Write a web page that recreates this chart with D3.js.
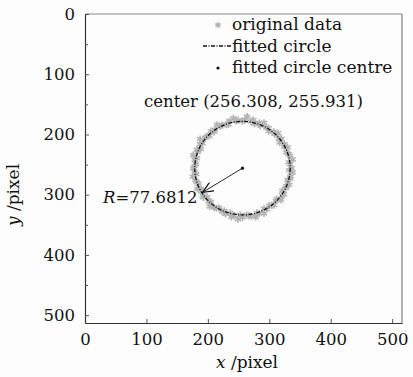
<!DOCTYPE html>
<html>
<head>
<meta charset="utf-8">
<script src="https://cdn.jsdelivr.net/npm/d3@7"></script>
<style>
  body { margin: 0; background: #fdfdfd; }
  svg { display: block; }
  text { font-family: "DejaVu Serif", serif; fill: #111; }
</style>
</head>
<body>
<div class="graph"></div>
<script>
// values
var center = [256.308, 255.931];
var radius = 77.6812;
var arrowTip = [191.5, 296.0];
var xTicks = [0, 100, 200, 300, 400, 500];
var yTicks = [0, 100, 200, 300, 400, 500];
var yMinorTicks = [50, 150, 250, 350, 450];
var legendLabels = ["original data", "fitted circle", "fitted circle centre"];

// original edge points (x, y in image pixels)
var origX = [336.3, 338.0, 334.1, 329.7, 332.4, 327.0, 321.3, 321.0, 319.1, 310.7, 307.7, 299.9,
  295.8, 291.4, 283.7, 278.0, 270.4, 263.1, 256.3, 248.9, 242.4, 236.4, 228.6, 222.9,
  218.3, 210.4, 202.9, 201.1, 198.8, 191.6, 189.6, 182.9, 184.9, 180.0, 175.5, 178.6,
  176.3, 180.6, 178.5, 176.1, 183.0, 188.3, 187.0, 187.5, 195.8, 202.6, 204.9, 211.6,
  214.8, 222.9, 230.0, 235.3, 241.7, 249.3, 256.3, 263.8, 270.0, 276.0, 283.7, 291.4,
  295.3, 299.3, 307.1, 314.3, 315.3, 316.9, 324.7, 329.7, 327.7, 333.6, 338.0, 334.0,
  332.2, 334.4, 327.4, 323.8, 312.3, 303.8, 291.4, 279.8, 266.7, 252.9, 238.3, 226.8,
  213.9, 205.0, 192.8, 188.9, 181.9, 181.0, 178.4, 182.1, 182.4, 191.4, 198.8, 210.0,
  220.3, 233.4, 246.0, 259.8, 274.0, 285.4, 298.7, 308.3, 319.8, 324.6, 331.6, 331.6];
var origY = [255.9, 263.1, 269.6, 275.6, 283.6, 288.9, 293.4, 301.2, 308.6, 310.3, 317.2, 318.2,
  324.3, 331.1, 331.1, 337.0, 335.7, 333.6, 337.9, 340.6, 334.7, 330.3, 332.0, 327.5,
  321.7, 321.4, 319.5, 311.1, 304.1, 301.2, 294.4, 290.1, 281.9, 276.3, 270.1, 262.7,
  255.9, 249.3, 242.2, 234.4, 229.2, 224.2, 215.9, 207.7, 205.1, 202.2, 194.6, 192.0,
  184.0, 184.3, 183.5, 177.7, 173.2, 176.2, 177.9, 170.2, 178.1, 182.5, 180.7, 180.7,
  188.4, 194.5, 195.4, 197.9, 206.4, 213.5, 216.4, 221.7, 229.9, 235.2, 241.5, 249.1,
  259.2, 273.2, 285.4, 298.9, 307.2, 317.8, 323.3, 330.3, 335.2, 333.8, 336.9, 327.0,
  322.5, 311.9, 304.6, 291.0, 279.4, 265.8, 252.5, 239.5, 225.3, 214.5, 203.2, 195.6,
  186.7, 183.4, 177.6, 176.0, 175.8, 185.7, 189.3, 199.1, 207.2, 220.3, 232.1, 246.0];

var W = 413, H = 377;
var pLeft = 85, pRight = 402, pTop = 14, pBottom = 323;

var svg = d3.select(".graph").append("svg")
  .attr("width", W)
  .attr("height", H);

var x = d3.scaleLinear().domain([0, 516]).range([pLeft, pRight]);
var y = d3.scaleLinear().domain([0, 513]).range([pTop, pBottom]);

// frame
svg.append("line").attr("x1", pLeft).attr("x2", pRight).attr("y1", pTop).attr("y2", pTop)
  .attr("stroke", "#888").attr("stroke-width", 1);
svg.append("line").attr("x1", pRight).attr("x2", pRight).attr("y1", pTop).attr("y2", pBottom)
  .attr("stroke", "#666").attr("stroke-width", 1);

// axes
svg.append("g")
  .attr("class", "yaxis")
  .attr("transform", "translate(" + pLeft + ",0)")
  .call(d3.axisLeft(y).tickValues(yTicks).tickSize(-4).tickPadding(10).tickSizeOuter(0));
svg.append("g")
  .attr("transform", "translate(" + pLeft + ",0)")
  .call(d3.axisLeft(y).tickValues(yMinorTicks).tickSize(-3).tickFormat("").tickSizeOuter(0))
  .select(".domain").remove();

svg.append("g")
  .attr("class", "xaxis")
  .attr("transform", "translate(0," + pBottom + ")")
  .call(d3.axisBottom(x).tickValues(xTicks).tickSize(-4).tickPadding(10).tickSizeOuter(0));

svg.selectAll(".yaxis .domain, .xaxis .domain").attr("stroke", "#333").attr("stroke-width", 1.2);
svg.selectAll(".tick line").attr("stroke", "#555");
svg.selectAll(".yaxis text, .xaxis text")
  .style("font-family", "DejaVu Serif, serif")
  .style("font-size", "16.5px")
  .attr("fill", "#111");
svg.selectAll(".xaxis .tick").filter(function(d) { return d === 0; }).select("line").remove();

// axis titles
var xt = svg.append("text")
  .attr("x", 247).attr("y", 368)
  .attr("text-anchor", "middle")
  .style("font-size", "17px");
xt.append("tspan").attr("font-style", "italic").text("x");
xt.append("tspan").text(" /pixel");

var yt = svg.append("text")
  .attr("transform", "translate(19,195) rotate(-90)")
  .attr("text-anchor", "middle")
  .style("font-size", "17px");
yt.append("tspan").attr("font-style", "italic").text("y");
yt.append("tspan").text(" /pixel");

// original data
var star = d3.symbol().type(d3.symbolAsterisk).size(36);
svg.append("g").selectAll("path")
  .data(origX.map(function(d, i) { return [d, origY[i]]; }))
  .enter().append("path")
  .attr("transform", function(d) { return "translate(" + x(d[0]) + "," + y(d[1]) + ")"; })
  .attr("d", star)
  .attr("fill", "none")
  .attr("stroke", "#b3b3b3")
  .attr("stroke-width", 1.6);

// fitted circle
svg.append("ellipse")
  .attr("cx", x(center[0]))
  .attr("cy", y(center[1]))
  .attr("rx", x(center[0] + radius) - x(center[0]))
  .attr("ry", y(center[1] + radius) - y(center[1]))
  .attr("fill", "none")
  .attr("stroke", "#111")
  .attr("stroke-width", 1.3)
  .attr("stroke-dasharray", "4,1.5,1,1.5");

// radius arrow
svg.append("defs").append("marker")
  .attr("id", "arr")
  .attr("viewBox", "0 0 12 10")
  .attr("refX", 11).attr("refY", 5)
  .attr("markerWidth", 12).attr("markerHeight", 10)
  .attr("markerUnits", "userSpaceOnUse")
  .attr("orient", "auto")
  .append("path")
  .attr("d", "M0,0 L11,5 L0,10")
  .attr("fill", "none")
  .attr("stroke", "#111")
  .attr("stroke-width", 1.2);

svg.append("line")
  .attr("x1", x(center[0])).attr("y1", y(center[1]))
  .attr("x2", x(arrowTip[0])).attr("y2", y(arrowTip[1]))
  .attr("stroke", "#111")
  .attr("stroke-width", 0.9)
  .attr("marker-end", "url(#arr)");

// centre point
svg.append("circle")
  .attr("cx", x(center[0])).attr("cy", y(center[1]))
  .attr("r", 1.6).attr("fill", "#111");

// annotations
svg.append("text")
  .attr("x", 144).attr("y", 107)
  .style("font-size", "16.5px")
  .text("center (" + center[0] + ", " + center[1] + ")");

var rt = svg.append("text")
  .attr("x", 103).attr("y", 203)
  .style("font-size", "16.5px");
rt.append("tspan").attr("font-style", "italic").text("R");
rt.append("tspan").text("=" + radius);

// legend
var leg = svg.append("g");
var rowY = [30, 52, 73];
leg.selectAll("text")
  .data(legendLabels)
  .enter().append("text")
  .attr("x", 232)
  .attr("y", function(d, i) { return rowY[i]; })
  .style("font-size", "17px")
  .text(function(d) { return d; });

leg.append("path")
  .attr("transform", "translate(218,25)")
  .attr("d", d3.symbol().type(d3.symbolAsterisk).size(26))
  .attr("fill", "none")
  .attr("stroke", "#b3b3b3")
  .attr("stroke-width", 1.6);
leg.append("line")
  .attr("x1", 203).attr("x2", 231).attr("y1", 46).attr("y2", 46)
  .attr("stroke", "#111").attr("stroke-width", 1.3)
  .attr("stroke-dasharray", "4,1.5,1,1.5");
leg.append("circle")
  .attr("cx", 218).attr("cy", 68).attr("r", 1.6).attr("fill", "#111");
</script>
</body>
</html>
